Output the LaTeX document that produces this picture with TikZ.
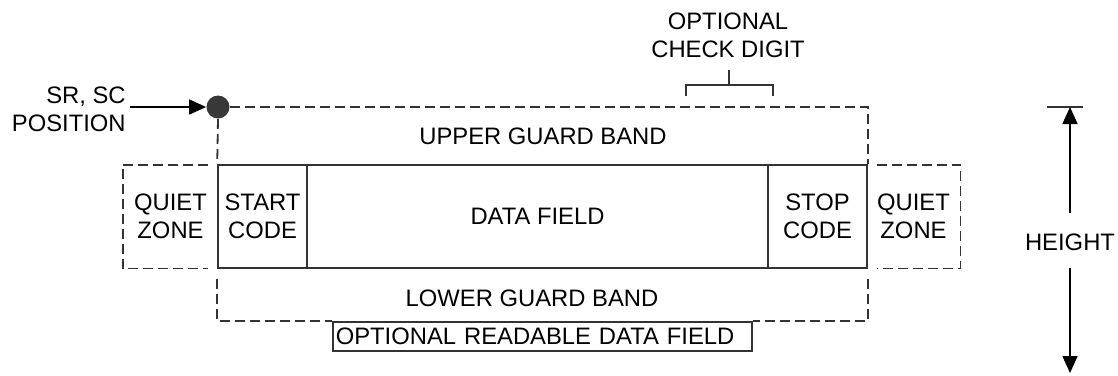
\documentclass[tikz,border=0pt]{standalone}
\usepackage{fontspec}
\setmainfont{Liberation Sans}
\usetikzlibrary{arrows.meta, positioning}

\begin{document}
\begin{tikzpicture}[x=0.5pt, y=-0.5pt,
    lbl/.style={font=\fontsize{11.9}{14}\selectfont, align=center, inner sep=0pt},
    codebox/.style={rectangle, draw=black!80, line width=0.8pt, minimum height=51.5pt,
                    inner sep=0pt, align=center, font=\fontsize{11.9}{14}\selectfont},
    zoneline/.style={draw=black!80, line width=0.9pt, dash pattern=on 5pt off 2.5pt},
    plain/.style={draw=black!80, line width=0.8pt},
    arrow/.style={-{Triangle[length=8.5pt, width=7.5pt]}, line width=0.8pt}
]
    \useasboundingbox (0,0) rectangle (1118,375);

    % Symbol fields
    \node[codebox, minimum width=44.5pt] (start) at (262.5,216.5) {START\\CODE};
    \node[codebox, minimum width=230.5pt] (data) at (537.5,216.5) {DATA FIELD};
    \node[codebox, minimum width=49.5pt] (stop) at (817.5,216.5) {STOP\\CODE};

    % Quiet zones
    \node[lbl, minimum width=47.5pt, minimum height=51.5pt] (qleft) at (170.5,216.5) {QUIET\\ZONE};
    \node[lbl, minimum width=46.5pt, minimum height=51.5pt] (qright) at (913.5,216.5) {QUIET\\ZONE};
    \draw[zoneline] ([xshift=-5pt]qleft.north east) -- (qleft.north west)
        -- (qleft.south west) -- ([xshift=-5pt]qleft.south east);
    \draw[zoneline] ([xshift=5pt]qright.north west) -- (qright.north east)
        -- (qright.south east) -- ([xshift=5pt]qright.south west);

    % Upper guard band
    \node[circle, fill=black!78, inner sep=0pt, minimum size=11.5pt] (dot) at (218,107) {};
    \draw[zoneline] (dot.east) -- (dot -| stop.north east) -- (stop.north east);
    \draw[zoneline] (dot.south) -- (start.north west);
    \node[lbl] (upper) at (543,136) {UPPER GUARD BAND};

    % Lower guard band
    \node[lbl] (lower) at (532,298) {LOWER GUARD BAND};
    \node[plain, lbl, anchor=west, inner xsep=1.5pt, text width=206.5pt, align=left,
          minimum height=14.5pt] (readable) at (332,336.5) {OPTIONAL READABLE DATA FIELD};
    \draw[zoneline] ([yshift=-5pt]start.south west) -- (start.south west |- readable.north)
        -- (readable.north west);
    \draw[zoneline] ([yshift=-5pt]stop.south east) -- (stop.south east |- readable.north)
        -- (readable.north east);

    % Start position
    \node[lbl, anchor=east, align=right] (srsc) at (126,109) {SR, SC\\POSITION};
    \draw[arrow] ([xshift=2pt]srsc.east |- dot.west) -- (dot.west);

    % Check digit
    \node[lbl] (check) at (728,35) {OPTIONAL\\CHECK DIGIT};
    \coordinate (brl) at (686,96);
    \coordinate (brr) at (773,96);
    \coordinate (brmid) at (729,85);
    \draw[plain] (brl) |- (brmid) -| (brr);
    \draw[plain] (brmid) -- ++(0,-15);

    % Height
    \coordinate (htop) at (1070,107);
    \coordinate (hbot) at (1070,373);
    \node[lbl] (height) at (1070,242) {HEIGHT};
    \draw[plain] (1047,107) -- (1083,107);
    \draw[arrow] ([yshift=10pt]height.north) -- (htop);
    \draw[arrow] ([yshift=-8.5pt]height.south) -- (hbot);
\end{tikzpicture}
\end{document}
